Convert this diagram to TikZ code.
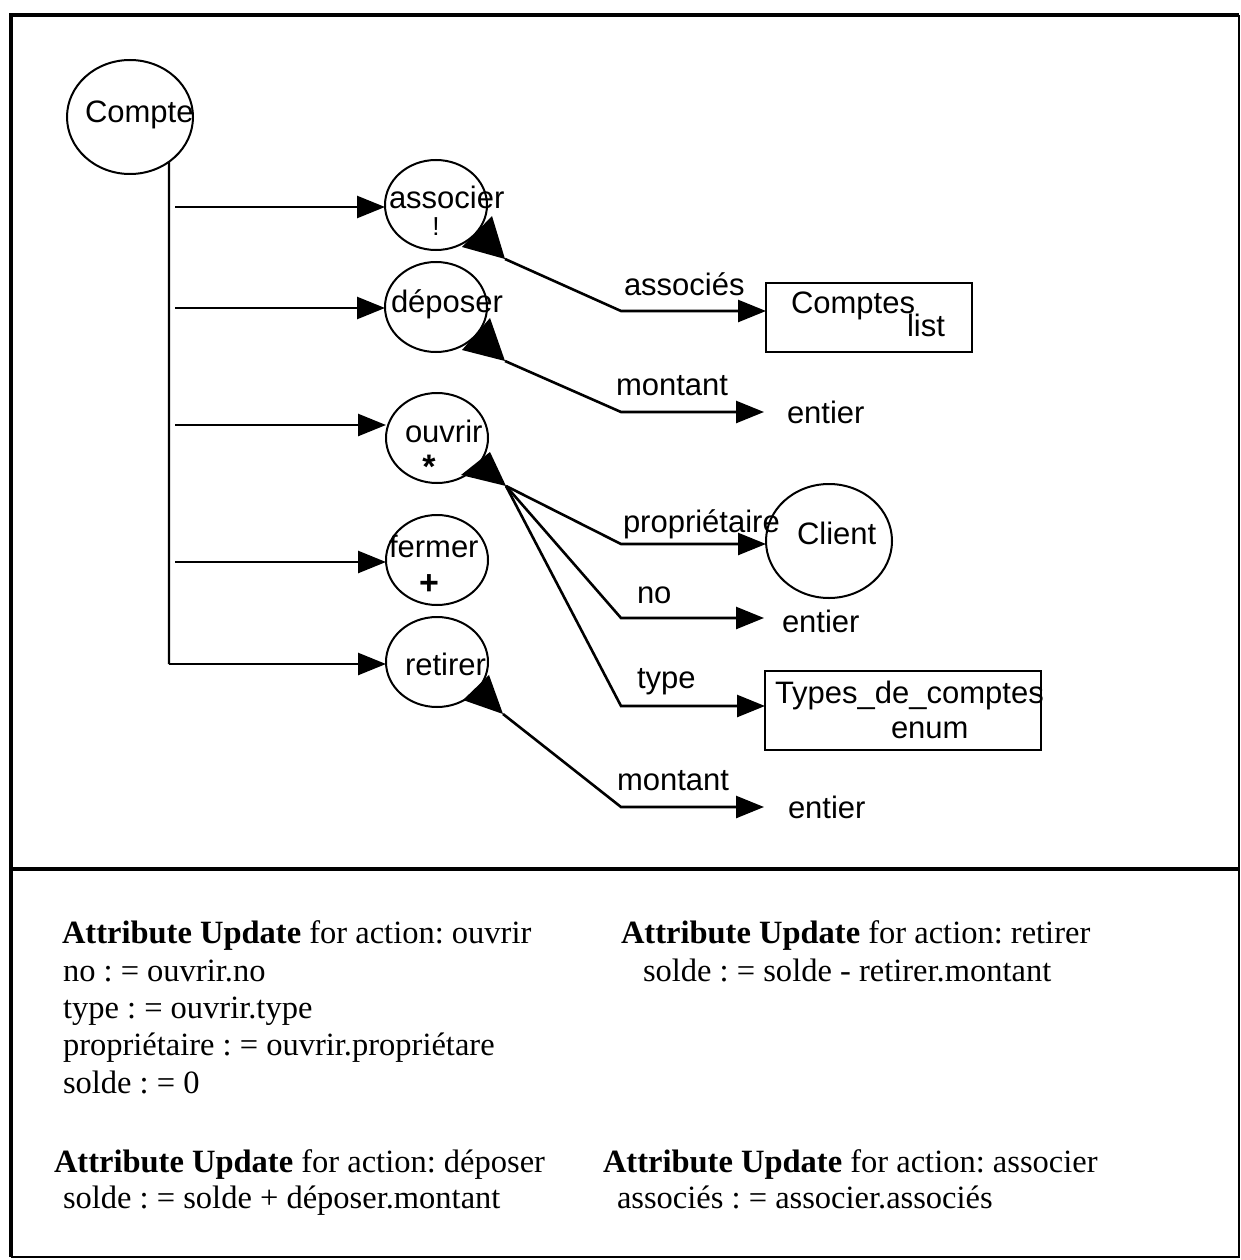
\documentclass[tikz,border=0pt]{standalone}
\usepackage{fontspec}
\setmainfont{Liberation Serif}
\setsansfont{Liberation Sans}
\usetikzlibrary{arrows.meta,shapes.geometric}
\frenchspacing
\begin{document}
\begin{tikzpicture}[x=1pt,y=-1pt,
  every node/.style={inner sep=0pt,outer sep=0pt},
  lbl/.style={anchor=base west,font=\sffamily\fontsize{31}{36}\selectfont},
  mid/.style={anchor=base,font=\sffamily\fontsize{31}{36}\selectfont},
  note/.style={anchor=base west,font=\rmfamily\fontsize{32.5}{38}\selectfont},
  oval/.style={draw,ellipse,line width=2pt,minimum width=102pt,minimum height=90pt},
  typebox/.style={draw,rectangle,line width=2.4pt,anchor=north west},
  link/.style={line width=2.6pt,-{Triangle[length=28pt,width=22pt]}},
  wire/.style={line width=2.6pt},
  frame/.style={line width=4.5pt},
  thinframe/.style={line width=2.5pt}]

\useasboundingbox (0,0) rectangle (1241,1260);

% outer frame and separator between diagram and notes
\draw[frame] (11,1257) -- (11,15) -- (1239,15);
\draw[thinframe] (1239,15) -- (1239,1257) -- (11,1257);
\draw[frame] (11,869) -- (1239,869);

% object and its actions
\node[oval,minimum width=126pt,minimum height=114pt] (comp) at (130,117) {};
\node[lbl] at (85,123) {Compte};

\node[oval] (assoc) at (436,205) {};
\node[lbl] at (389,208) {associer};
\node[mid,font=\sffamily\fontsize{26}{30}\selectfont] at (436,235) {!};

\node[oval] (depos) at (436,307) {};
\node[lbl] at (391,312) {déposer};

\node[oval] (ouvr) at (437,438) {};
\node[lbl] at (405,442) {ouvrir};
\node[mid,font=\sffamily\bfseries\fontsize{34}{38}\selectfont] at (429,478) {*};

\node[oval] (ferm) at (437,560) {};
\node[lbl] at (389,557) {fermer};
\node[mid,font=\sffamily\bfseries\fontsize{34}{38}\selectfont] at (429,594) {+};

\node[oval] (retir) at (437,662) {};
\node[lbl] at (405,675) {retirer};

% trunk from the object to its actions
\coordinate (ttop) at (comp.-49);
\coordinate (tbot) at (169,664);
\draw[wire,line width=2.2pt] (ttop) -- (tbot);
\draw[link] (175,207) -- (175,207 -| assoc.west);
\draw[link] (175,308) -- (175,308 -| depos.west);
\draw[link] (175,425) -- (175,425 -| ouvr.west);
\draw[link] (175,562) -- (175,562 -| ferm.west);
\draw[link] (tbot) -- (tbot -| retir.west);

% parameter types
\node[typebox,minimum width=206pt,minimum height=69pt] (comptes) at (766,283) {};
\node[lbl] at (791,313) {Comptes};
\node[lbl] at (907,336) {list};

\node[oval,minimum width=126pt,minimum height=114pt] (client) at (829,541) {};
\node[lbl] at (797,544) {Client};

\node[typebox,minimum width=276pt,minimum height=79pt] (types) at (765,671) {};
\node[lbl] at (775,703) {Types\_de\_comptes};
\node[lbl] at (891,738) {enum};

\node[lbl] (ent1) at (787,423) {entier};
\node[lbl] (ent2) at (782,632) {entier};
\node[lbl] (ent3) at (788,818) {entier};
\coordinate (e1) at (764,412);
\coordinate (e2) at (764,618);
\coordinate (e3) at (764,807);

% parameter markers on the actions
\coordinate (pa) at (505,259);
\coordinate (pd) at (505,361);
\coordinate (po) at (506,486);
\coordinate (pr) at (503,714);
\fill (462,247) -- (492,216) -- (pa) -- cycle;
\fill (462,350) -- (490,318) -- (pd) -- cycle;
\fill (461,475) -- (490,452) -- (po) -- cycle;
\fill (463,700) -- (489,675) -- (pr) -- cycle;

% parameters
\draw[link] (pa) -- (621,311) -- (621,311 -| comptes.west);
\node[lbl] at (624,295) {associés};

\draw[link] (pd) -- (621,412) -- (e1);
\node[lbl] at (616,395) {montant};

\draw[link] (po) -- (621,544) -- (621,544 -| client.west);
\node[lbl] at (623,532) {propriétaire};
\draw[link] (po) -- (621,618) -- (e2);
\node[lbl] at (637,603) {no};
\draw[link] (po) -- (621,706) -- (621,706 -| types.west);
\node[lbl] at (637,688) {type};

\draw[link] (pr) -- (621,807) -- (e3);
\node[lbl] at (617,790) {montant};

% attribute updates
\node[note] at (62,943) {\textbf{Attribute Update} for action: ouvrir};
\node[note] at (63,981) {no : = ouvrir.no};
\node[note] at (63,1018) {type : = ouvrir.type};
\node[note] at (63,1055) {propriétaire : = ouvrir.propriétare};
\node[note] at (63,1093) {solde : = 0};

\node[note] at (621,943) {\textbf{Attribute Update} for action: retirer};
\node[note] at (643,981) {solde : = solde - retirer.montant};

\node[note] at (54,1172) {\textbf{Attribute Update} for action: déposer};
\node[note] at (63,1208) {solde : = solde + déposer.montant};

\node[note] at (603,1172) {\textbf{Attribute Update} for action: associer};
\node[note] at (617,1208) {associés : = associer.associés};
\end{tikzpicture}
\end{document}
